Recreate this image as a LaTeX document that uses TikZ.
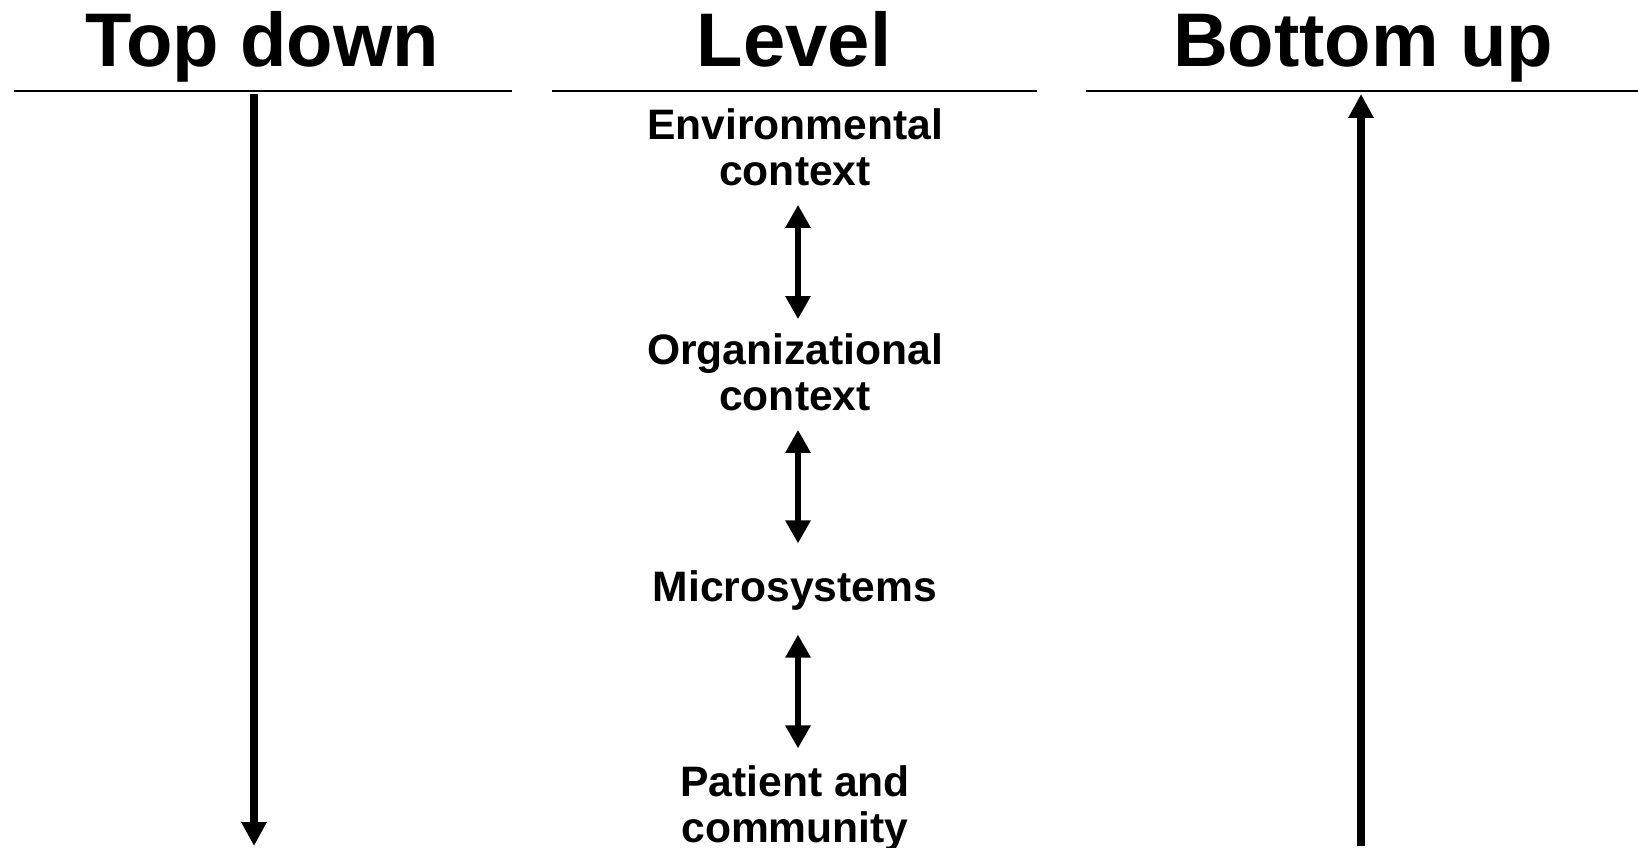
\documentclass[tikz,border=0pt]{standalone}
\usepackage{fontspec}
\setmainfont{Liberation Sans}
\usetikzlibrary{arrows.meta}
\begin{document}
\begin{tikzpicture}[x=1pt,y=-1pt,
  title/.style={font=\fontsize{76}{82}\selectfont\bfseries, anchor=base, inner sep=0pt},
  lvl/.style={font=\fontsize{42.6}{46}\selectfont\bfseries, align=center, inner sep=0pt},
  rule/.style={line width=2pt},
  bigarrow/.style={line width=7.5pt, -{Triangle[length=24pt,width=24pt]}},
  dblarrow/.style={line width=6.5pt, {Triangle[length=23pt,width=24pt]}-{Triangle[length=23pt,width=24pt]}}
]
\useasboundingbox (0,0) rectangle (1638,848);
% titles
\node[title] (td) at (262,67) {Top down};
\node[title] (lv) at (794,67) {Level};
\node[title] (bu) at (1363,67) {Bottom up};
% rules
\coordinate (l1a) at (14,91);  \coordinate (l1b) at (512,91);
\coordinate (l2a) at (552,91); \coordinate (l2b) at (1037,91);
\coordinate (l3a) at (1086,91); \coordinate (l3b) at (1638,91);
\draw[rule] (l1a) -- (l1b);
\draw[rule] (l2a) -- (l2b);
\draw[rule] (l3a) -- (l3b);
% big arrows
\coordinate (tdtop) at (254,94); \coordinate (tdbot) at (254,846);
\coordinate (butop) at (1361,94); \coordinate (bubot) at (1361,846);
\draw[bigarrow] (tdtop) -- (tdbot);
\draw[bigarrow] (bubot) -- (butop);
% levels
\node[lvl] (env) at (795,147) {Environmental\\context};
\node[lvl] (org) at (795,372) {Organizational\\context};
\node[lvl] (mic) at (795,590) {Microsystems};
\node[lvl] (pat) at (795,808) {Patient and\\community};
% connectors
\draw[dblarrow, shorten <=19pt, shorten >=14pt] ([xshift=3pt]env.south) -- ([xshift=3pt]org.north);
\draw[dblarrow, shorten <=19pt, shorten >=26.5pt] ([xshift=3pt]org.south) -- ([xshift=3pt]mic.north);
\draw[dblarrow, shorten <=24.5pt, shorten >=16.5pt] ([xshift=3pt]mic.south) -- ([xshift=3pt]pat.north);
\end{tikzpicture}
\end{document}
